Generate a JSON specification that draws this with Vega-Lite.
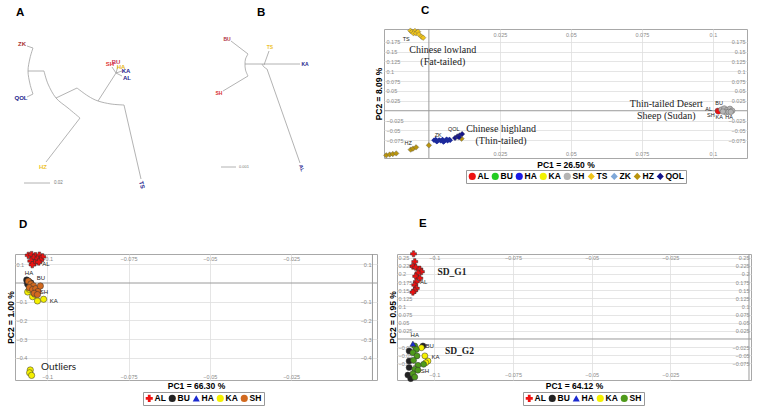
{
"$schema": "https://vega.github.io/schema/vega-lite/v6.json",
"background": "white",
"padding": {"left": 6, "top": 4, "right": 2, "bottom": 2},
"bounds": "flush",
"spacing": 225,
"resolve": {"scale": {"color": "independent", "shape": "independent", "x": "independent", "y": "independent"}, "legend": {"color": "independent", "shape": "independent"}},
"datasets": {
"treeA": [
{"seg":1,"i":0,"x":26,"y":45},{"seg":1,"i":1,"x":32,"y":47},
{"seg":2,"i":0,"x":32,"y":47},{"seg":2,"i":1,"x":29,"y":57},{"seg":2,"i":2,"x":27,"y":70},{"seg":2,"i":3,"x":29,"y":83},{"seg":2,"i":4,"x":32,"y":93},
{"seg":3,"i":0,"x":26,"y":96},{"seg":3,"i":1,"x":32,"y":93},
{"seg":4,"i":0,"x":27,"y":70},{"seg":4,"i":1,"x":43,"y":70},
{"seg":5,"i":0,"x":43,"y":70},{"seg":5,"i":1,"x":47,"y":83},{"seg":5,"i":2,"x":55,"y":97},{"seg":5,"i":3,"x":67,"y":107},{"seg":5,"i":4,"x":79,"y":117},
{"seg":6,"i":0,"x":55,"y":97},{"seg":6,"i":1,"x":76,"y":87},
{"seg":7,"i":0,"x":76,"y":87},{"seg":7,"i":1,"x":87,"y":95},{"seg":7,"i":2,"x":97,"y":100},{"seg":7,"i":3,"x":110,"y":103},{"seg":7,"i":4,"x":123,"y":104},
{"seg":8,"i":0,"x":97,"y":100},{"seg":8,"i":1,"x":115,"y":72},
{"seg":9,"i":0,"x":123,"y":104},{"seg":9,"i":1,"x":140,"y":178},
{"seg":10,"i":0,"x":79,"y":117},{"seg":10,"i":1,"x":45,"y":161},
{"seg":11,"i":0,"x":115,"y":72},{"seg":11,"i":1,"x":111,"y":66},
{"seg":12,"i":0,"x":115,"y":72},{"seg":12,"i":1,"x":117,"y":65},
{"seg":13,"i":0,"x":115,"y":72},{"seg":13,"i":1,"x":121,"y":70},
{"seg":14,"i":0,"x":115,"y":72},{"seg":14,"i":1,"x":121,"y":75},
{"seg":15,"i":0,"x":23,"y":182},{"seg":15,"i":1,"x":49,"y":182}
],
"labA": [
{"t":"ZK","x":21,"y":43},{"t":"QOL","x":20,"y":97},{"t":"HZ","x":42,"y":166},{"t":"TS","x":141,"y":184},
{"t":"SH","x":109,"y":63},{"t":"BU","x":115,"y":61},{"t":"HA","x":120,"y":66},{"t":"KA","x":125,"y":70},{"t":"AL","x":126,"y":77}
],
"treeB": [
{"seg":1,"i":0,"x":230,"y":40},{"seg":1,"i":1,"x":247,"y":53},
{"seg":2,"i":0,"x":247,"y":53},{"seg":2,"i":1,"x":244.5,"y":58},{"seg":2,"i":2,"x":244,"y":63},{"seg":2,"i":3,"x":244.5,"y":69},{"seg":2,"i":4,"x":247,"y":75},
{"seg":3,"i":0,"x":247,"y":75},{"seg":3,"i":1,"x":222,"y":90},
{"seg":4,"i":0,"x":244,"y":63},{"seg":4,"i":1,"x":261,"y":63},
{"seg":5,"i":0,"x":261,"y":63},{"seg":5,"i":1,"x":263,"y":66},{"seg":5,"i":2,"x":266,"y":68},
{"seg":6,"i":0,"x":263,"y":64},{"seg":6,"i":1,"x":268,"y":50},
{"seg":7,"i":0,"x":261,"y":63},{"seg":7,"i":1,"x":299,"y":63},
{"seg":8,"i":0,"x":266,"y":68},{"seg":8,"i":1,"x":299,"y":162},
{"seg":9,"i":0,"x":220,"y":166},{"seg":9,"i":1,"x":235,"y":166}
],
"labB": [
{"t":"BU","x":226,"y":38},{"t":"SH","x":218,"y":92},{"t":"TS","x":269,"y":46},{"t":"KA","x":304,"y":63},{"t":"AL","x":301,"y":167}
],
"ptsC": [
{"pop":"TS","x":-0.0065,"y":0.2028},{"pop":"TS","x":-0.0059,"y":0.2002},{"pop":"TS","x":-0.0049,"y":0.202},{"pop":"TS","x":-0.0054,"y":0.196},{"pop":"TS","x":-0.0045,"y":0.196},{"pop":"TS","x":-0.0038,"y":0.2002},{"pop":"TS","x":-0.0035,"y":0.1934},{"pop":"TS","x":-0.0026,"y":0.1876},{"pop":"TS","x":-0.002,"y":0.185},
{"pop":"HZ","x":-0.015,"y":-0.113},{"pop":"HZ","x":-0.0138,"y":-0.111},{"pop":"HZ","x":-0.0127,"y":-0.1096},{"pop":"HZ","x":-0.0115,"y":-0.108},{"pop":"HZ","x":-0.0064,"y":-0.0985},{"pop":"HZ","x":-0.0056,"y":-0.096},{"pop":"HZ","x":-0.0045,"y":-0.0927},{"pop":"HZ","x":0.0,"y":-0.0876},{"pop":"HZ","x":0.0115,"y":-0.0707},
{"pop":"QOL","x":0.0092,"y":-0.069},{"pop":"QOL","x":0.01,"y":-0.065},{"pop":"QOL","x":0.0108,"y":-0.0624},{"pop":"QOL","x":0.0117,"y":-0.059},{"pop":"QOL","x":0.0106,"y":-0.0674},
{"pop":"AL","x":0.1017,"y":0.0},{"pop":"AL","x":0.1019,"y":-0.002},
{"pop":"SH","x":0.103,"y":0.003},{"pop":"SH","x":0.104,"y":0.006},{"pop":"SH","x":0.105,"y":0.002},{"pop":"SH","x":0.106,"y":0.005},{"pop":"SH","x":0.1068,"y":0.0},{"pop":"SH","x":0.1045,"y":-0.004},{"pop":"SH","x":0.1055,"y":-0.003},{"pop":"SH","x":0.1035,"y":-0.002},{"pop":"SH","x":0.1063,"y":-0.003}
],
"zkC": [
{"pop":"ZK","x":0.0018,"y":-0.075},{"pop":"ZK","x":0.0024,"y":-0.073},{"pop":"ZK","x":0.003,"y":-0.077},{"pop":"ZK","x":0.0036,"y":-0.074},{"pop":"ZK","x":0.0042,"y":-0.076},{"pop":"ZK","x":0.0048,"y":-0.073},{"pop":"ZK","x":0.0054,"y":-0.077},{"pop":"ZK","x":0.006,"y":-0.074},{"pop":"ZK","x":0.0066,"y":-0.076},{"pop":"ZK","x":0.0072,"y":-0.073},{"pop":"ZK","x":0.0075,"y":-0.075},{"pop":"ZK","x":0.0027,"y":-0.078},{"pop":"ZK","x":0.0051,"y":-0.079},{"pop":"ZK","x":0.0063,"y":-0.072}
],
"labC": [
{"t":"TS","x":-0.008,"y":0.182},{"t":"HZ","x":-0.0073,"y":-0.082},{"t":"ZK","x":0.0033,"y":-0.0606},{"t":"QOL","x":0.0088,"y":-0.0455},
{"t":"BU","x":0.1022,"y":0.019},{"t":"AL","x":0.0985,"y":0.005},{"t":"SH","x":0.0993,"y":-0.012},{"t":"KA","x":0.1022,"y":-0.017},{"t":"HA","x":0.1057,"y":-0.015}
],
"annC": [
{"t":"Chinese lowland","x":0.0049,"y":0.155},{"t":"(Fat-tailed)","x":0.0049,"y":0.1245},
{"t":"Chinese highland","x":0.0254,"y":-0.0465},{"t":"(Thin-tailed)","x":0.0254,"y":-0.0758},
{"t":"Thin-tailed Desert","x":0.0836,"y":0.0177},{"t":"Sheep (Sudan)","x":0.0836,"y":-0.0126}
],
"ptsD": [
{"pop":"KA","x":-0.106,"y":-0.048},{"pop":"KA","x":-0.1055,"y":-0.034},{"pop":"KA","x":-0.1045,"y":-0.073},{"pop":"KA","x":-0.103,"y":-0.096},{"pop":"KA","x":-0.1011,"y":-0.087},{"pop":"KA","x":-0.1038,"y":-0.06},
{"pop":"KA","x":-0.1052,"y":-0.465},{"pop":"KA","x":-0.1054,"y":-0.48},{"pop":"KA","x":-0.1048,"y":-0.494},
{"pop":"HA","x":-0.1062,"y":0.012},
{"pop":"BU","x":-0.1063,"y":0.016},{"pop":"BU","x":-0.1057,"y":0.008},{"pop":"BU","x":-0.105,"y":0.0},{"pop":"BU","x":-0.106,"y":-0.006},
{"pop":"SH","x":-0.1058,"y":0.01},{"pop":"SH","x":-0.105,"y":-0.005},{"pop":"SH","x":-0.1042,"y":-0.015},{"pop":"SH","x":-0.1055,"y":-0.025},{"pop":"SH","x":-0.1045,"y":-0.035},{"pop":"SH","x":-0.1035,"y":-0.03},{"pop":"SH","x":-0.1028,"y":-0.045},{"pop":"SH","x":-0.104,"y":-0.055},{"pop":"SH","x":-0.103,"y":-0.062},{"pop":"SH","x":-0.1021,"y":-0.016},
{"pop":"AL","x":-0.1058,"y":0.148},{"pop":"AL","x":-0.1048,"y":0.152},{"pop":"AL","x":-0.1036,"y":0.146},{"pop":"AL","x":-0.1024,"y":0.149},{"pop":"AL","x":-0.1014,"y":0.14},{"pop":"AL","x":-0.1042,"y":0.135},{"pop":"AL","x":-0.103,"y":0.128},{"pop":"AL","x":-0.102,"y":0.122},{"pop":"AL","x":-0.105,"y":0.118},{"pop":"AL","x":-0.1038,"y":0.108},{"pop":"AL","x":-0.1026,"y":0.112},{"pop":"AL","x":-0.1046,"y":0.098}
],
"labD": [
{"t":"AL","x":-0.1004,"y":0.1},{"t":"HA","x":-0.1056,"y":0.053},{"t":"BU","x":-0.1019,"y":0.027},{"t":"SH","x":-0.101,"y":-0.048},{"t":"KA","x":-0.098,"y":-0.097}
],
"ptsE": [
{"pop":"BU","x":-0.1036,"y":-0.0215},{"pop":"BU","x":-0.108,"y":-0.037},{"pop":"BU","x":-0.108,"y":-0.068},{"pop":"BU","x":-0.108,"y":-0.088},{"pop":"BU","x":-0.1084,"y":-0.111},{"pop":"BU","x":-0.1075,"y":-0.122},
{"pop":"KA","x":-0.1041,"y":-0.027},{"pop":"KA","x":-0.103,"y":-0.052},{"pop":"KA","x":-0.102,"y":-0.0677},{"pop":"KA","x":-0.1027,"y":-0.073},
{"pop":"SH","x":-0.1062,"y":-0.0215},{"pop":"SH","x":-0.1057,"y":-0.032},{"pop":"SH","x":-0.1068,"y":-0.042},{"pop":"SH","x":-0.1055,"y":-0.052},{"pop":"SH","x":-0.1066,"y":-0.0657},{"pop":"SH","x":-0.1034,"y":-0.078},{"pop":"SH","x":-0.1052,"y":-0.081},{"pop":"SH","x":-0.1062,"y":-0.093},{"pop":"SH","x":-0.1052,"y":-0.096},{"pop":"SH","x":-0.1068,"y":-0.107},{"pop":"SH","x":-0.1062,"y":-0.117},
{"pop":"HA","x":-0.1068,"y":-0.0145},
{"pop":"AL","x":-0.1066,"y":0.262},{"pop":"AL","x":-0.1062,"y":0.238},{"pop":"AL","x":-0.1068,"y":0.224},{"pop":"AL","x":-0.1059,"y":0.2205},{"pop":"AL","x":-0.1046,"y":0.215},{"pop":"AL","x":-0.1041,"y":0.207},{"pop":"AL","x":-0.1052,"y":0.203},{"pop":"AL","x":-0.1059,"y":0.193},{"pop":"AL","x":-0.1046,"y":0.187},{"pop":"AL","x":-0.1057,"y":0.176},{"pop":"AL","x":-0.1062,"y":0.166},{"pop":"AL","x":-0.1057,"y":0.156},{"pop":"AL","x":-0.1062,"y":0.149},{"pop":"AL","x":-0.1068,"y":0.144}
],
"labE": [
{"t":"AL","x":-0.1034,"y":0.176},{"t":"HA","x":-0.1062,"y":0.012},{"t":"BU","x":-0.1015,"y":-0.0215},{"t":"KA","x":-0.0996,"y":-0.055},{"t":"SH","x":-0.103,"y":-0.1}
]
},
"vconcat": [
{
"bounds": "flush",
"spacing": 0,
"resolve": {"scale": {"color": "independent", "shape": "independent", "x": "independent", "y": "independent"}, "legend": {"color": "independent", "shape": "independent"}},
"hconcat": [
{
"width": 177, "height": 172,
"view": {"stroke": null},
"title": {"text": "A", "dx": 1, "offset": 11},
"layer": [
{"data": {"name": "treeA"}, "mark": {"type": "line", "color": "#a0a0a0", "strokeWidth": 0.8, "interpolate": "cardinal"},
 "encoding": {
  "x": {"field": "x", "type": "quantitative", "scale": {"domain": [14, 191], "nice": false, "zero": false}, "axis": null},
  "y": {"field": "y", "type": "quantitative", "scale": {"domain": [28, 200], "nice": false, "zero": false, "reverse": true}, "axis": null},
  "detail": {"field": "seg", "type": "nominal"},
  "order": {"field": "i", "type": "quantitative"}}},
{"data": {"name": "labA"}, "transform": [{"filter": "datum.t !== 'TS'"}], "mark": {"type": "text", "fontSize": 6, "fontWeight": "bold"},
 "encoding": {
  "x": {"field": "x", "type": "quantitative", "axis": null},
  "y": {"field": "y", "type": "quantitative", "axis": null},
  "text": {"field": "t"},
  "color": {"field": "t", "type": "nominal", "legend": null, "scale": {"domain": ["ZK","QOL","HZ","TS","SH","BU","HA","KA","AL"], "range": ["#a83030","#1c1c8c","#eec22a","#1c1c8c","#e03535","#c83050","#e8b820","#1c1c8c","#1c1c8c"]}}}},
{"data": {"name": "labA"}, "transform": [{"filter": "datum.t === 'TS'"}], "mark": {"type": "text", "fontSize": 6, "fontWeight": "bold", "angle": 75},
 "encoding": {
  "x": {"field": "x", "type": "quantitative", "axis": null},
  "y": {"field": "y", "type": "quantitative", "axis": null},
  "text": {"field": "t"},
  "color": {"field": "t", "type": "nominal", "legend": null}}},
{"data": {"values": [{"t": "0.02", "x": 53, "y": 182}]}, "mark": {"type": "text", "fontSize": 4.5, "color": "#777", "align": "left"},
 "encoding": {
  "x": {"field": "x", "type": "quantitative", "axis": null},
  "y": {"field": "y", "type": "quantitative", "axis": null},
  "text": {"field": "t"}}}
]
},
{
"width": 192, "height": 172,
"view": {"stroke": null},
"title": {"text": "B", "dx": 65, "offset": 11},
"layer": [
{"data": {"name": "treeB"}, "mark": {"type": "line", "color": "#a0a0a0", "strokeWidth": 0.8, "interpolate": "cardinal"},
 "encoding": {
  "x": {"field": "x", "type": "quantitative", "scale": {"domain": [191, 383], "nice": false, "zero": false}, "axis": null},
  "y": {"field": "y", "type": "quantitative", "scale": {"domain": [28, 200], "nice": false, "zero": false, "reverse": true}, "axis": null},
  "detail": {"field": "seg", "type": "nominal"},
  "order": {"field": "i", "type": "quantitative"}}},
{"data": {"name": "labB"}, "transform": [{"filter": "datum.t !== 'AL'"}], "mark": {"type": "text", "fontSize": 5, "fontWeight": "bold"},
 "encoding": {
  "x": {"field": "x", "type": "quantitative", "axis": null},
  "y": {"field": "y", "type": "quantitative", "axis": null},
  "text": {"field": "t"},
  "color": {"field": "t", "type": "nominal", "legend": null, "scale": {"domain": ["BU","SH","TS","KA","AL"], "range": ["#b03040","#d83030","#eec22a","#1c1c8c","#1c1c8c"]}}}},
{"data": {"name": "labB"}, "transform": [{"filter": "datum.t === 'AL'"}], "mark": {"type": "text", "fontSize": 5, "fontWeight": "bold", "angle": 70},
 "encoding": {
  "x": {"field": "x", "type": "quantitative", "axis": null},
  "y": {"field": "y", "type": "quantitative", "axis": null},
  "text": {"field": "t"},
  "color": {"field": "t", "type": "nominal", "legend": null}}},
{"data": {"values": [{"t": "0.001", "x": 238, "y": 166}]}, "mark": {"type": "text", "fontSize": 4, "color": "#777", "align": "left"},
 "encoding": {
  "x": {"field": "x", "type": "quantitative", "axis": null},
  "y": {"field": "y", "type": "quantitative", "axis": null},
  "text": {"field": "t"}}}
]
},
{
"width": 363, "height": 129,
"title": {"text": "C", "dx": 37, "offset": 11},
"resolve": {"axis": {"x": "independent", "y": "independent"}},
"layer": [
{"data": {"values": [{"z": 0}]}, "mark": {"type": "rule", "color": "#9a9a9a", "strokeWidth": 1},
 "encoding": {"x": {"field": "z", "type": "quantitative", "scale": {"domain": [-0.0158, 0.112], "nice": false, "zero": false}, "axis": null}}},
{"data": {"values": [{"z": 0}]}, "mark": {"type": "rule", "color": "#9a9a9a", "strokeWidth": 1},
 "encoding": {"y": {"field": "z", "type": "quantitative", "scale": {"domain": [-0.1197, 0.207], "nice": false, "zero": false}, "axis": null}}},
{"data": {"name": "zkC"}, "mark": {"type": "point", "filled": true, "shape": "diamond", "size": 30, "color": "#1c2a9c", "opacity": 1},
 "encoding": {
  "x": {"field": "x", "type": "quantitative", "scale": {"domain": [-0.0158, 0.112], "nice": false, "zero": false}, "axis": null},
  "y": {"field": "y", "type": "quantitative", "scale": {"domain": [-0.1197, 0.207], "nice": false, "zero": false}, "axis": null}}},
{"data": {"name": "ptsC"}, "mark": {"type": "point", "filled": true, "size": 30, "opacity": 1, "stroke": "#555", "strokeWidth": 0.4},
 "encoding": {
  "x": {"field": "x", "type": "quantitative", "scale": {"domain": [-0.0158, 0.112], "nice": false, "zero": false},
   "axis": {"orient": "bottom", "values": [0.025, 0.05, 0.075, 0.1], "format": ".3~g", "grid": true, "labelBaseline": "top", "labelPadding": -6.5, "title": "PC1 = 26.50 %", "titleY": 6, "titleBaseline": "middle"}},
  "y": {"field": "y", "type": "quantitative", "scale": {"domain": [-0.1197, 0.207], "nice": false, "zero": false},
   "axis": {"orient": "left", "values": [0.175, 0.15, 0.125, 0.1, 0.075, 0.05, 0.025, -0.025, -0.05, -0.075], "format": ".3~g", "grid": true, "labelAlign": "left", "labelPadding": -2, "title": "PC2 = 8.09 %", "titleX": -6, "titleBaseline": "middle"}},
  "color": {"field": "pop", "type": "nominal",
   "scale": {"domain": ["AL","BU","HA","KA","SH","TS","ZK","HZ","QOL"], "range": ["#ee1111","#22cc22","#1a1ae6","#f2f200","#b4b4b4","#f0c419","#7fa8d8","#b8940e","#14148c"]},
   "legend": {"title": null, "orient": "none", "legendX": 82, "legendY": 141, "direction": "horizontal"}},
  "shape": {"field": "pop", "type": "nominal",
   "scale": {"domain": ["AL","BU","HA","KA","SH","TS","ZK","HZ","QOL"], "range": ["circle","circle","circle","circle","circle","diamond","diamond","diamond","diamond"]},
   "legend": {"title": null, "orient": "none", "legendX": 82, "legendY": 141, "direction": "horizontal"}}}},
{"data": {"name": "labC"}, "mark": {"type": "text", "fontSize": 5.5, "color": "#222"},
 "encoding": {
  "x": {"field": "x", "type": "quantitative", "scale": {"domain": [-0.0158, 0.112], "nice": false, "zero": false},
   "axis": {"orient": "top", "values": [0.025, 0.05, 0.075, 0.1], "format": ".3~g", "grid": false, "labelBaseline": "bottom", "labelPadding": -8, "title": null}},
  "y": {"field": "y", "type": "quantitative", "scale": {"domain": [-0.1197, 0.207], "nice": false, "zero": false},
   "axis": {"orient": "right", "values": [0.175, 0.15, 0.125, 0.1, 0.075, 0.05, 0.025, -0.025, -0.05, -0.075], "format": ".3~g", "grid": false, "labelAlign": "right", "labelPadding": -2, "title": null}},
  "text": {"field": "t"}}},
{"data": {"name": "annC"}, "mark": {"type": "text", "fontSize": 10, "font": "Liberation Serif", "color": "#222"},
 "encoding": {
  "x": {"field": "x", "type": "quantitative", "scale": {"domain": [-0.0158, 0.112], "nice": false, "zero": false}, "axis": null},
  "y": {"field": "y", "type": "quantitative", "scale": {"domain": [-0.1197, 0.207], "nice": false, "zero": false}, "axis": null},
  "text": {"field": "t"}}}
]
}
]
},
{
"bounds": "flush",
"spacing": 20,
"resolve": {"scale": {"color": "independent", "shape": "independent", "x": "independent", "y": "independent"}, "legend": {"color": "independent", "shape": "independent"}},
"hconcat": [
{
"width": 362, "height": 126,
"title": {"text": "D", "dx": 4, "offset": 20},
"resolve": {"axis": {"x": "independent", "y": "independent"}},
"layer": [
{"data": {"values": [{"z": 0}]}, "mark": {"type": "rule", "color": "#9a9a9a", "strokeWidth": 1},
 "encoding": {"x": {"field": "z", "type": "quantitative", "scale": {"domain": [-0.1099, 0.0014], "nice": false, "zero": false}, "axis": null}}},
{"data": {"values": [{"z": 0}]}, "mark": {"type": "rule", "color": "#9a9a9a", "strokeWidth": 1},
 "encoding": {"y": {"field": "z", "type": "quantitative", "scale": {"domain": [-0.5187, 0.1551], "nice": false, "zero": false}, "axis": null}}},
{"data": {"name": "ptsD"}, "mark": {"type": "point", "filled": true, "size": 40, "opacity": 1, "stroke": "#333", "strokeWidth": 0.5},
 "encoding": {
  "x": {"field": "x", "type": "quantitative", "scale": {"domain": [-0.1099, 0.0014], "nice": false, "zero": false},
   "axis": {"orient": "bottom", "values": [-0.1, -0.075, -0.05, -0.025], "format": ".3~g", "grid": true, "labelBaseline": "top", "labelPadding": -6, "title": "PC1 = 66.30 %", "titleY": 5, "titleBaseline": "middle"}},
  "y": {"field": "y", "type": "quantitative", "scale": {"domain": [-0.5187, 0.1551], "nice": false, "zero": false},
   "axis": {"orient": "left", "values": [0.1, -0.1, -0.2, -0.3, -0.4], "format": ".3~g", "grid": true, "labelAlign": "left", "labelPadding": -1, "title": "PC2 = 1.00 %", "titleX": -4.5, "titleBaseline": "middle"}},
  "color": {"field": "pop", "type": "nominal",
   "scale": {"domain": ["AL","BU","HA","KA","SH"], "range": ["#ee1111","#222222","#1a2ad0","#f5f000","#d2691e"]},
   "legend": {"title": null, "orient": "none", "legendX": 128, "legendY": 138, "direction": "horizontal"}},
  "shape": {"field": "pop", "type": "nominal",
   "scale": {"domain": ["AL","BU","HA","KA","SH"], "range": ["cross","circle","triangle-up","circle","circle"]},
   "legend": {"title": null, "orient": "none", "legendX": 128, "legendY": 138, "direction": "horizontal"}}}},
{"data": {"name": "labD"}, "mark": {"type": "text", "fontSize": 6, "color": "#222"},
 "encoding": {
  "x": {"field": "x", "type": "quantitative", "scale": {"domain": [-0.1099, 0.0014], "nice": false, "zero": false},
   "axis": {"orient": "top", "values": [-0.1, -0.075, -0.05, -0.025], "format": ".3~g", "grid": false, "labelBaseline": "bottom", "labelPadding": -7, "title": null}},
  "y": {"field": "y", "type": "quantitative", "scale": {"domain": [-0.5187, 0.1551], "nice": false, "zero": false},
   "axis": {"orient": "right", "values": [0.1, -0.1, -0.2, -0.3, -0.4], "format": ".3~g", "grid": false, "labelAlign": "right", "labelPadding": -6, "title": null}},
  "text": {"field": "t"}}},
{"data": {"values": [{"t": "Outliers", "x": -0.0965, "y": -0.449}]}, "mark": {"type": "text", "fontSize": 10, "font": "Lato", "color": "#222"},
 "encoding": {
  "x": {"field": "x", "type": "quantitative", "scale": {"domain": [-0.1099, 0.0014], "nice": false, "zero": false}, "axis": null},
  "y": {"field": "y", "type": "quantitative", "scale": {"domain": [-0.5187, 0.1551], "nice": false, "zero": false}, "axis": null},
  "text": {"field": "t"}}}
]
},
{
"width": 354, "height": 126,
"title": {"text": "E", "dx": 22, "offset": 20},
"resolve": {"axis": {"x": "independent", "y": "independent"}},
"layer": [
{"data": {"values": [{"z": 0}]}, "mark": {"type": "rule", "color": "#9a9a9a", "strokeWidth": 1},
 "encoding": {"x": {"field": "z", "type": "quantitative", "scale": {"domain": [-0.11185, 0.00064], "nice": false, "zero": false}, "axis": null}}},
{"data": {"values": [{"z": 0}]}, "mark": {"type": "rule", "color": "#9a9a9a", "strokeWidth": 1},
 "encoding": {"y": {"field": "z", "type": "quantitative", "scale": {"domain": [-0.1262, 0.2615], "nice": false, "zero": false}, "axis": null}}},
{"data": {"name": "ptsE"}, "mark": {"type": "point", "filled": true, "size": 36, "opacity": 1, "stroke": "#333", "strokeWidth": 0.5},
 "encoding": {
  "x": {"field": "x", "type": "quantitative", "scale": {"domain": [-0.11185, 0.00064], "nice": false, "zero": false},
   "axis": {"orient": "bottom", "values": [-0.1, -0.075, -0.05, -0.025], "format": ".3~g", "grid": true, "labelBaseline": "top", "labelPadding": -7.5, "title": "PC1 = 64.12 %", "titleY": 5, "titleBaseline": "middle"}},
  "y": {"field": "y", "type": "quantitative", "scale": {"domain": [-0.1262, 0.2615], "nice": false, "zero": false},
   "axis": {"orient": "left", "values": [0.25, 0.225, 0.2, 0.175, 0.15, 0.125, 0.1, 0.075, 0.05, 0.025, -0.025, -0.05, -0.075], "format": ".3~g", "grid": true, "labelAlign": "left", "labelPadding": -1, "title": "PC2 = 0.95 %", "titleX": -4.5, "titleBaseline": "middle"}},
  "color": {"field": "pop", "type": "nominal",
   "scale": {"domain": ["AL","BU","HA","KA","SH"], "range": ["#ee1111","#222222","#1a2ad0","#f5f000","#4e9a1a"]},
   "legend": {"title": null, "orient": "none", "legendX": 126, "legendY": 138, "direction": "horizontal"}},
  "shape": {"field": "pop", "type": "nominal",
   "scale": {"domain": ["AL","BU","HA","KA","SH"], "range": ["cross","circle","triangle-up","circle","circle"]},
   "legend": {"title": null, "orient": "none", "legendX": 126, "legendY": 138, "direction": "horizontal"}}}},
{"data": {"name": "labE"}, "mark": {"type": "text", "fontSize": 6, "color": "#222"},
 "encoding": {
  "x": {"field": "x", "type": "quantitative", "scale": {"domain": [-0.11185, 0.00064], "nice": false, "zero": false},
   "axis": {"orient": "top", "values": [-0.1, -0.075, -0.05, -0.025], "format": ".3~g", "grid": false, "labelBaseline": "bottom", "labelPadding": -6.5, "title": null}},
  "y": {"field": "y", "type": "quantitative", "scale": {"domain": [-0.1262, 0.2615], "nice": false, "zero": false},
   "axis": {"orient": "right", "values": [0.25, 0.225, 0.2, 0.175, 0.15, 0.125, 0.1, 0.075, 0.05, 0.025, -0.025, -0.05, -0.075], "format": ".3~g", "grid": false, "labelAlign": "right", "labelPadding": -2, "title": null}},
  "text": {"field": "t"}}},
{"data": {"values": [{"t": "SD_G1", "x": -0.0944, "y": 0.205}, {"t": "SD_G2", "x": -0.092, "y": -0.037}]}, "mark": {"type": "text", "fontSize": 9.5, "font": "Liberation Serif", "fontWeight": "bold", "color": "#222"},
 "encoding": {
  "x": {"field": "x", "type": "quantitative", "scale": {"domain": [-0.11185, 0.00064], "nice": false, "zero": false}, "axis": null},
  "y": {"field": "y", "type": "quantitative", "scale": {"domain": [-0.1262, 0.2615], "nice": false, "zero": false}, "axis": null},
  "text": {"field": "t"}}}
]
}
]
}
],
"config": {
"font": "Liberation Sans",
"view": {"stroke": "#a8a8a8", "strokeWidth": 1},
"title": {"fontSize": 11.5, "fontWeight": "bold", "anchor": "start", "frame": "group", "baseline": "alphabetic", "font": "Liberation Sans", "color": "#000"},
"axis": {"labelFont": "Liberation Sans", "labelFontSize": 5.5, "labelColor": "#8a8a8a", "ticks": false, "tickSize": 0, "domain": false, "gridColor": "#dedede", "gridWidth": 0.8, "labelOverlap": false, "labelFlush": false, "titleFont": "Liberation Sans", "titleFontSize": 8.5, "titleFontWeight": "bold", "titleColor": "#000"},
"legend": {"labelFont": "Liberation Sans", "labelFontSize": 8.5, "labelFontWeight": "bold", "labelColor": "#000", "symbolSize": 50, "strokeColor": "#999", "padding": 2, "columnPadding": 2, "labelOffset": 1, "fillColor": "white", "symbolStrokeWidth": 0}
}
}
